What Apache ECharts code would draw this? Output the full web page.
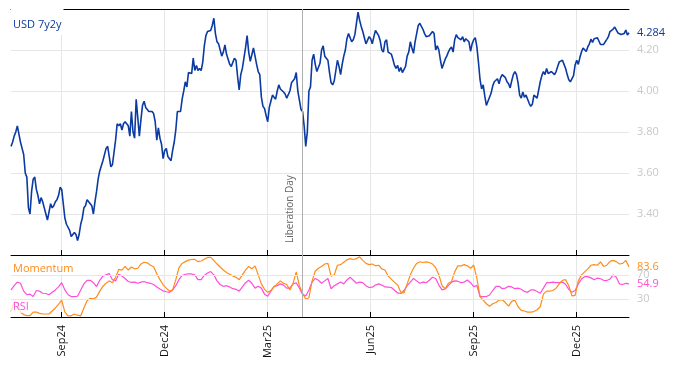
<!DOCTYPE html>
<html><head><meta charset="utf-8">
<script src="https://cdn.jsdelivr.net/npm/echarts@6/dist/echarts.min.js"></script>
<style>html,body{margin:0;padding:0;background:#fff}#c{width:674px;height:366px}</style>
</head><body><div id="c"></div>
<script>
// ---- data ----
const startDate = '2024-07-18';
const endDate = '2026-01-15';
const seriesName = 'USD 7y2y';
const eventDate = '2025-04-02';
const eventName = 'Liberation Day';
const rsiLevels = [30, 70];
const tickMonths = [2, 5, 8, 11]; // Mar, Jun, Sep, Dec
const monthNames = ['Jan','Feb','Mar','Apr','May','Jun','Jul','Aug','Sep','Oct','Nov','Dec'];

// daily (weekday) values of USD 7y2y
const usd7y2y = [
3.73,3.75,3.78,3.80,3.83,3.79,3.75,3.72,3.69,3.60,
3.58,3.43,3.40,3.51,3.57,3.58,3.52,3.49,3.45,3.48,
3.46,3.43,3.40,3.37,3.41,3.45,3.43,3.44,3.46,3.47,
3.49,3.53,3.52,3.45,3.38,3.35,3.35,3.32,3.29,3.29,
3.31,3.30,3.27,3.30,3.35,3.38,3.43,3.44,3.47,3.47,
3.45,3.44,3.40,3.46,3.51,3.57,3.61,3.61,3.66,3.66,
3.72,3.73,3.68,3.63,3.64,3.70,3.76,3.84,3.83,3.84,
3.81,3.84,3.85,3.84,3.83,3.78,3.90,3.80,3.77,3.96,
3.87,3.78,3.86,3.93,3.95,3.92,3.91,3.90,3.90,3.90,
3.89,3.85,3.76,3.82,3.77,3.74,3.67,3.71,3.72,3.68,
3.67,3.66,3.71,3.75,3.81,3.90,3.90,3.90,3.96,4.00,
4.045,4.02,4.09,4.09,4.085,4.16,4.10,4.125,4.10,4.11,
4.10,4.14,4.22,4.27,4.29,4.29,4.295,4.32,4.355,4.28,
4.24,4.23,4.225,4.17,4.19,4.225,4.18,4.175,4.13,4.12,
4.12,4.16,4.15,4.07,4.005,4.08,4.11,4.16,4.21,4.27,
4.19,4.145,4.15,4.21,4.21,4.13,4.095,4.08,3.97,3.925,
3.915,3.88,3.85,3.92,3.95,3.98,3.97,3.96,4.00,4.03,
4.01,4.01,3.995,3.985,3.965,3.96,4.00,4.04,4.04,4.06,
4.09,4.00,3.955,3.91,3.90,3.83,3.73,3.80,4.00,4.02,
4.15,4.18,4.13,4.095,4.10,4.135,4.20,4.22,4.17,4.17,
4.15,4.09,4.04,4.03,4.05,4.10,4.15,4.12,4.08,4.13,
4.17,4.20,4.255,4.28,4.26,4.24,4.25,4.275,4.33,4.385,
4.345,4.315,4.29,4.26,4.23,4.23,4.265,4.255,4.23,4.265,
4.295,4.29,4.27,4.245,4.20,4.19,4.24,4.25,4.19,4.185,
4.18,4.155,4.125,4.11,4.125,4.095,4.115,4.09,4.085,4.12,
4.17,4.19,4.24,4.21,4.184,4.24,4.28,4.32,4.33,4.33,
4.30,4.28,4.265,4.26,4.27,4.273,4.29,4.28,4.20,4.22,
4.20,4.15,4.11,4.11,4.155,4.17,4.19,4.205,4.215,4.19,
4.25,4.275,4.26,4.26,4.25,4.265,4.24,4.255,4.257,4.24,
4.194,4.23,4.25,4.26,4.215,4.14,4.055,4.01,4.03,3.975,
3.93,3.95,3.95,3.99,4.025,4.045,4.045,4.06,4.035,4.065,
4.08,4.085,4.065,4.045,4.035,4.015,4.05,4.08,4.095,4.08,
4.04,3.98,3.965,3.995,3.97,3.98,3.975,3.94,3.925,3.935,
3.98,3.985,3.965,3.965,4.045,4.075,4.095,4.08,4.11,4.085,
4.08,4.095,4.09,4.08,4.095,4.12,4.142,4.135,4.15,4.13,
4.11,4.08,4.055,4.045,4.045,4.075,4.127,4.15,4.13,4.163,
4.19,4.21,4.206,4.193,4.215,4.23,4.253,4.237,4.255,4.247,
4.26,4.244,4.227,4.224,4.227,4.24,4.252,4.265,4.29,4.29,
4.302,4.312,4.304,4.283,4.292,4.276,4.268,4.281,4.297,4.273,4.284
];

// every second weekday
const momentum = [
9,25,24,8,4,2.4,2.4,8,8,6,
5,5,5,10,15,21,28,8,2,2,
5,3,2,15,27,31,30,33,43,51,
56,60,57,66,79,78,84,78,83,80,
81,88,91,90,86,83.6,72,62,53.5,48,
43,45,62,82,89,92,94.5,95.5,95.6,92,
93,96,99,99,94,88,83,78,74,71,
68,66,62,70,78,84,80,85,70,55,
46,41,44,50,55,60,56,54,45,56,
75,52,39,30,32,60,76,81,84,88,
89,68,70,86,87,91,95,97,95.5,97,
100,94,89,87,88,85,86,80,78,68,
63,58,53,41,40,55,70,81,89,91.8,
90.5,91.5,90.5,88,82,70,52,47,56,59,
75,85,85,87,85,81,86,64,34,28,
22,18,22,24,28,29,24,18,26,28,
17,11,10,8,8,9,12,17,38,43,
43,44,48,55,61,62,52,35,36,60,
70,75,80,86,87,86,91.5,84,86,92.5,
94,92,88,89,94,83.6
];

const rsi = [
45,52,58,56,43,37,38,34,44,43,
39.5,39,37,41,45,50,57,45,37,34,
34,34.5,45,55,61,61,57,50.5,61,68,
70,72,62,60,71,68,64,59,57.5,58,
56,58,59,57,56,54,50,46.5,43.5,42,
41,45,52,62,69,71,71.5,71.5,70,62,
62,69,73,75.5,70,60,54,51,52,50,
47,46,43,50,57,61,56,48,51,48,
38,34.5,43,51,52,55,53,48,48,55,
57,48,38,35,45,58,64,61,56,60,
64,47,52,55,58,55,61.5,66,61,56,
58,57,52,49,49.5,53,55,53,50,49.5,
49,44.5,40,39,44,52,58,64,60,56,
58,57,61,66,64,53,45,46.5,52,58,
60,59.5,57,58,61.5,57,50.5,52,34,34,
34,36.5,44,51,51,47,48,51,50,47,
48,46,42.5,41,45,45,42.5,39.5,48,57,
57,58,57,57,58,54,46,41,44,55,
63,67,67,65,62,64.5,63.5,61,60.5,63,
70,66,55,54,56,54.9
];

// ---- build ----
function weekdays(s, e) {
  const out = [];
  let d = new Date(s + 'T00:00:00Z');
  const end = new Date(e + 'T00:00:00Z');
  while (d <= end) {
    const w = d.getUTCDay();
    if (w !== 0 && w !== 6) out.push(d.toISOString().slice(0, 10));
    d = new Date(d.getTime() + 86400000);
  }
  return out;
}
const dates = weekdays(startDate, endDate);
const tickSet = new Set();
let prevKey = null;
dates.forEach(d => {
  const key = d.slice(0, 7);
  if (key !== prevKey) {
    prevKey = key;
    if (tickMonths.includes(+d.slice(5, 7) - 1)) tickSet.add(d);
  }
});
const isTick = (i, v) => tickSet.has(v);
const momPairs = momentum.map((v, j) => [dates[2 * j], v]);
const rsiPairs = rsi.map((v, j) => [dates[2 * j], v]);

const FONT = '"Open Sans", "Noto Sans", sans-serif';
const BLUE = '#0b3aa2', ORANGE = '#ff8c1a', PINK = '#ff4fd8';
const GRID = '#e6e6e6', LABEL = '#c8c8c8';

const chart = echarts.init(document.getElementById('c'), null, { renderer: 'canvas' });
chart.setOption({
  animation: false,
  textStyle: { fontFamily: FONT },
  title: [
    { text: seriesName, left: 11, top: 9, padding: [10, 2, 5, 2], backgroundColor: '#fff',
      textStyle: { fontSize: 11, fontWeight: 'normal', color: BLUE, fontFamily: FONT } },
    { text: 'Momentum', left: 11, top: 262, padding: [1, 2], backgroundColor: 'rgba(255,255,255,0.7)',
      textStyle: { fontSize: 11, fontWeight: 'normal', color: ORANGE, fontFamily: FONT } },
    { text: 'RSI', left: 11, top: 300, padding: [1, 2], backgroundColor: 'rgba(255,255,255,0.7)',
      textStyle: { fontSize: 11, fontWeight: 'normal', color: PINK, fontFamily: FONT } }
  ],
  grid: [
    { left: 11, right: 45, top: 9, height: 246 },
    { left: 11, right: 45, top: 255, height: 62 }
  ],
  xAxis: [
    { type: 'category', gridIndex: 0, data: dates, boundaryGap: false, position: 'bottom',
      axisLine: { lineStyle: { color: '#000', width: 1 } },
      axisTick: { inside: true, length: 5, interval: isTick, lineStyle: { color: '#000' } },
      axisLabel: { show: false },
      splitLine: { show: true, interval: isTick, lineStyle: { color: GRID } } },
    { type: 'category', gridIndex: 0, data: dates, boundaryGap: false, position: 'top',
      axisLine: { lineStyle: { color: '#000', width: 1 } },
      axisTick: { show: false }, axisLabel: { show: false }, splitLine: { show: false } },
    { type: 'category', gridIndex: 1, data: dates, boundaryGap: false, position: 'bottom',
      axisLine: { lineStyle: { color: '#000', width: 1 } },
      axisTick: { inside: true, length: 5, interval: isTick, lineStyle: { color: '#000' } },
      axisLabel: { interval: isTick, rotate: 90, margin: 8, fontSize: 11, color: '#111', fontFamily: FONT,
        formatter: v => monthNames[+v.slice(5, 7) - 1] + v.slice(2, 4) },
      splitLine: { show: true, interval: isTick, lineStyle: { color: GRID } } }
  ],
  yAxis: [
    { type: 'value', gridIndex: 0, position: 'right', min: 3.2, max: 4.4, interval: 0.2,
      axisLine: { show: false }, axisTick: { show: false },
      axisLabel: { color: LABEL, fontSize: 11, margin: 8, showMinLabel: false, showMaxLabel: false,
        formatter: v => v.toFixed(2), fontFamily: FONT },
      splitLine: { lineStyle: { color: GRID } } },
    { type: 'value', gridIndex: 1, min: 0, max: 103, show: false }
  ],
  series: [
    { name: 'levels', type: 'line', xAxisIndex: 2, yAxisIndex: 1, data: rsiPairs, z: 1,
      showSymbol: false, silent: true, lineStyle: { opacity: 0 },
      markLine: { silent: true, symbol: ['none', 'none'], animation: false,
        lineStyle: { color: GRID, type: 'solid', width: 1 },
        label: { position: 'end', distance: 8, color: LABEL, fontSize: 11, fontFamily: FONT },
        data: rsiLevels.map(v => ({ yAxis: v })) } },
    { name: seriesName, type: 'line', xAxisIndex: 0, yAxisIndex: 0, data: usd7y2y,
      showSymbol: false, lineStyle: { color: BLUE, width: 1.6 }, itemStyle: { color: BLUE },
      endLabel: { show: true, formatter: p => (+p.value).toFixed(3), color: BLUE, fontSize: 11, distance: 8, fontFamily: FONT },
      markLine: { silent: true, symbol: ['none', 'none'], animation: false,
        lineStyle: { color: '#b0b0b0', type: 'solid', width: 1 },
        label: { show: true, formatter: eventName, position: 'insideStartTop', distance: [12, 7],
          color: '#666', fontSize: 10, fontFamily: FONT },
        data: [{ xAxis: eventDate }] } },
    { name: 'RSI', type: 'line', xAxisIndex: 2, yAxisIndex: 1, data: rsiPairs,
      showSymbol: false, lineStyle: { color: PINK, width: 1.2 }, itemStyle: { color: PINK },
      endLabel: { show: true, formatter: p => (+p.value[1]).toFixed(1), color: PINK, fontSize: 11, distance: 8,
        fontFamily: FONT, backgroundColor: 'rgba(255,255,255,0.6)' },
      markLine: { silent: true, symbol: ['none', 'none'], animation: false,
        lineStyle: { color: '#b0b0b0', type: 'solid', width: 1 }, label: { show: false },
        data: [{ xAxis: eventDate }] } },
    { name: 'Momentum', type: 'line', xAxisIndex: 2, yAxisIndex: 1, data: momPairs,
      showSymbol: false, lineStyle: { color: ORANGE, width: 1.2 }, itemStyle: { color: ORANGE },
      endLabel: { show: true, formatter: p => (+p.value[1]).toFixed(1), color: ORANGE, fontSize: 11, distance: 8,
        fontFamily: FONT, backgroundColor: 'rgba(255,255,255,0.6)' } }
  ]
});
</script>
</body></html>
